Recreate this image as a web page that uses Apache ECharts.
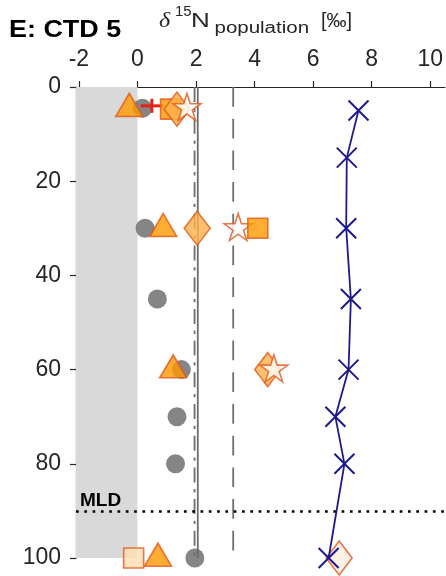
<!DOCTYPE html>
<html>
<head>
<meta charset="utf-8">
<script src="https://cdn.jsdelivr.net/npm/echarts@6/dist/echarts.min.js"></script>
<style>
  html, body { margin: 0; padding: 0; background: #ffffff; }
  #chart { width: 446px; height: 576px; }
</style>
</head>
<body>
<div id="chart"></div>
<script>
// δ15N of the population vs. depth at station CTD 5

// axis ticks
const xTicks = [-2, 0, 2, 4, 6, 8, 10];
const depthTicks = [0, 20, 40, 60, 80, 100];

// profile joined by a line (crosses)
const profileX = [7.55, 7.15, 7.13, 7.29, 7.21, 6.76, 7.07, 6.53];
const profileDepth = [5, 15, 30, 45, 60, 70, 80, 100];

// grey circles
const circleX = [0.17, 0.26, 0.68, 1.50, 1.35, 1.30, 1.96];
const circleDepth = [4.5, 30, 45, 60, 70, 80, 100];

// triangles
const triangleX = [-0.28, 0.88, 1.22, 0.70];
const triangleDepth = [4.5, 30, 60, 100];

// squares
const squareX = [1.13, 4.11, -0.13];
const squareDepth = [4.7, 30, 100];

// diamonds
const diamondX = [1.35, 2.04, 4.45, 6.89];
const diamondDepth = [4.7, 30, 60, 100];

// open stars
const starX = [1.69, 3.44, 4.66];
const starDepth = [4.5, 30, 60];

// mean with range (red)
const meanX = [0.49];
const meanLow = [0.11];
const meanHigh = [0.87];
const meanDepth = [4.0];

// vertical reference values
const solidRef = 2.06;
const dashDotRef = 1.95;
const dashedRef = 3.27;

// mixed layer depth
const mixedLayerDepth = 90;

// shaded band
const shadeFrom = -2.1;
const shadeTo = 0;

const xMin = -2.1, xMax = 10.5;
const yMin = 0, yMax = 100;

const orange = '#ff9900';
const lightOrange = '#ffb24a';
const edge = '#e2581a';
const navy = '#1e1a8c';
const refGrey = '#6e6e6e';
const axisInk = '#262626';
const sans = '"Liberation Sans", Arial, Helvetica, sans-serif';

const pts = (xs, ds) => xs.map((x, i) => [x, ds[i]]);

// lighter fill for the deepest samples
const deepFill = (xs, ds, normal, light) => xs.map((x, i) => ({
  value: [x, ds[i]],
  itemStyle: ds[i] >= 100 ? { color: light } : { color: normal }
}));

const starPath = 'path://M50,0 L61.23,34.55 L97.55,34.55 L68.16,55.9 L79.39,90.45 L50,69.1 L20.61,90.45 L31.84,55.9 L2.45,34.55 L38.77,34.55 Z';
const crossPath = 'path://M0,0 L10,10 M10,0 L0,10';

const refLine = (value, type, z) => ({
  type: 'line',
  data: [[value, yMin], [value, yMax]],
  showSymbol: false,
  symbol: 'none',
  silent: true,
  z: z,
  lineStyle: { color: refGrey, width: 1.8, type: type, cap: 'butt' }
});

// text piece placed by its top-left corner
const label = (text, x, y, font, sx, fill) => ({
  type: 'text',
  x: x,
  y: y,
  scaleX: sx,
  silent: true,
  style: { text: text, font: font, fill: fill, align: 'left', verticalAlign: 'top' }
});

const chart = echarts.init(document.getElementById('chart'), null, { renderer: 'canvas' });

chart.setOption({
  animation: false,
  backgroundColor: '#ffffff',
  grid: { left: 76, top: 87, width: 373, height: 471, containLabel: false },
  xAxis: {
    type: 'value',
    position: 'top',
    min: xMin,
    max: xMax,
    axisLine: { show: true, onZero: false, lineStyle: { color: axisInk, width: 1.2 } },
    axisTick: { show: true, inside: false, length: 6, customValues: xTicks, lineStyle: { color: axisInk, width: 1.2 } },
    axisLabel: { customValues: xTicks, margin: 16, fontSize: 23, color: axisInk, fontFamily: sans },
    splitLine: { show: false }
  },
  yAxis: {
    type: 'value',
    inverse: true,
    min: yMin,
    max: yMax,
    interval: 20,
    axisLine: { show: true, onZero: false, lineStyle: { color: axisInk, width: 1.2 } },
    axisTick: { show: true, inside: false, length: 6, customValues: depthTicks, lineStyle: { color: axisInk, width: 1.2 } },
    axisLabel: { customValues: depthTicks, margin: 15, fontSize: 23, color: axisInk, fontFamily: sans },
    splitLine: { show: false }
  },
  graphic: [
    label('E: CTD 5', 9, 19, 'bold 23px ' + sans, 1.17, '#000'),
    label('δ', 159, 12, 'italic 20px "Liberation Serif", serif', 1.2, axisInk),
    label('15', 175, 4.5, '15px ' + sans, 1.0, axisInk),
    label('N', 191, 11, '20px ' + sans, 1.3, axisInk),
    label('population', 214.5, 20.3, '16px ' + sans, 1.28, axisInk),
    label('[‰]', 321, 11.3, '20px ' + sans, 1.0, axisInk)
  ],
  series: [
    // shaded band left of zero
    {
      type: 'custom',
      silent: true,
      z: 1,
      encode: { x: [0, 2], y: [1, 3] },
      data: [[shadeFrom, yMin, shadeTo, yMax]],
      renderItem: (params, api) => {
        const a = api.coord([api.value(0), api.value(1)]);
        const b = api.coord([api.value(2), api.value(3)]);
        return {
          type: 'rect',
          shape: { x: a[0], y: a[1], width: b[0] - a[0], height: b[1] - a[1] },
          style: { fill: '#d9d9d9' }
        };
      }
    },
    refLine(solidRef, 'solid', 2),
    refLine(dashDotRef, [15, 6.7, 3.3, 6.7], 2),
    refLine(dashedRef, [19.7, 12], 2),
    // mixed layer depth
    {
      type: 'line',
      data: [],
      silent: true,
      z: 3,
      markLine: {
        silent: true,
        symbol: 'none',
        animation: false,
        lineStyle: { color: '#000', width: 2.7, type: [2.7, 5.6], cap: 'butt' },
        label: {
          show: true,
          position: 'insideStartTop',
          formatter: 'MLD',
          color: '#000',
          fontFamily: sans,
          fontWeight: 'bold',
          fontSize: 19,
          distance: [4, 1]
        },
        data: [{ yAxis: mixedLayerDepth }]
      }
    },
    {
      type: 'scatter',
      z: 4,
      symbol: 'circle',
      symbolSize: 19,
      itemStyle: { color: '#666666' },
      data: pts(circleX, circleDepth)
    },
    {
      type: 'scatter',
      z: 5,
      symbol: 'triangle',
      symbolSize: [27, 23],
      symbolOffset: [0, -3.3],
      itemStyle: { color: orange, borderColor: edge, borderWidth: 1.6 },
      data: pts(triangleX, triangleDepth)
    },
    // mean with range
    {
      type: 'custom',
      z: 6,
      encode: { x: [0, 1, 2], y: 3 },
      data: meanX.map((m, i) => [m, meanLow[i], meanHigh[i], meanDepth[i]]),
      renderItem: (params, api) => {
        const c = api.coord([api.value(0), api.value(3)]);
        const lo = api.coord([api.value(1), api.value(3)]);
        const hi = api.coord([api.value(2), api.value(3)]);
        const st = { stroke: '#e3221b', lineWidth: 3 };
        return {
          type: 'group',
          children: [
            { type: 'line', shape: { x1: lo[0], y1: lo[1], x2: hi[0], y2: hi[1] }, style: st },
            { type: 'line', shape: { x1: c[0], y1: c[1] - 7, x2: c[0], y2: c[1] + 7 }, style: st }
          ]
        };
      }
    },
    // squares, lower layer
    {
      type: 'scatter',
      z: 7,
      symbol: 'rect',
      symbolSize: 20,
      itemStyle: { borderColor: edge, borderWidth: 1.6 },
      data: deepFill(squareX, squareDepth, orange, '#ffddb3').filter(d => d.value[1] < 20 || d.value[1] >= 100)
    },
    {
      type: 'scatter',
      z: 8,
      symbol: 'diamond',
      symbolSize: [26, 34],
      itemStyle: { borderColor: edge, borderWidth: 1.6 },
      data: deepFill(diamondX, diamondDepth, lightOrange, '#fdeede')
    },
    {
      type: 'scatter',
      z: 9,
      symbol: starPath,
      symbolSize: [28, 27],
      symbolOffset: [0, -1.3],
      itemStyle: { color: '#ffffff', borderColor: edge, borderWidth: 1.6 },
      data: pts(starX, starDepth)
    },
    // squares, upper layer
    {
      type: 'scatter',
      z: 10,
      symbol: 'rect',
      symbolSize: 20,
      itemStyle: { borderColor: edge, borderWidth: 1.6 },
      data: deepFill(squareX, squareDepth, orange, '#ffddb3').filter(d => d.value[1] >= 20 && d.value[1] < 100)
    },
    // profile
    {
      type: 'line',
      z: 11,
      symbol: crossPath,
      symbolSize: 20,
      showSymbol: true,
      lineStyle: { color: navy, width: 1.8 },
      itemStyle: { color: navy, borderColor: navy, borderWidth: 2 },
      data: pts(profileX, profileDepth)
    }
  ]
});
</script>
</body>
</html>
